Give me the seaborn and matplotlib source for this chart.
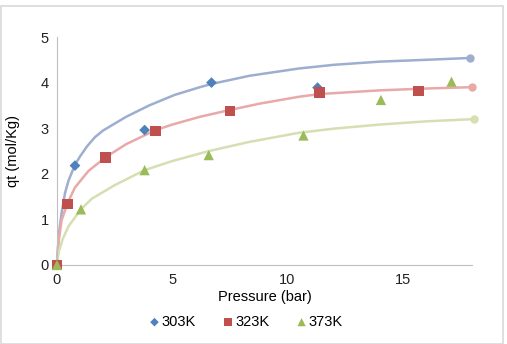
import seaborn as sns
import matplotlib.pyplot as plt
import pandas as pd
from matplotlib.patches import Rectangle

# measured points
p_303 = [0, 0.78, 3.8, 6.7, 11.3]
q_303 = [0, 2.18, 2.96, 4.0, 3.89]
p_323 = [0, 0.46, 2.1, 4.27, 7.49, 11.38, 15.68]
q_323 = [0, 1.34, 2.36, 2.94, 3.38, 3.78, 3.82]
p_373 = [0, 1.04, 3.8, 6.58, 10.69, 14.05, 17.11]
q_373 = [0, 1.22, 2.08, 2.41, 2.84, 3.62, 4.02]

# fitted curves
fit_p_303 = [0, 0.05, 0.1, 0.2, 0.35, 0.5, 0.78, 1, 1.3, 1.64, 2, 2.5, 3, 4, 5.1, 6.2,
             6.7, 8.35, 10.5, 12, 14, 16, 17.9]
fit_q_303 = [0, 0.45, 0.75, 1.14, 1.58, 1.85, 2.2, 2.38, 2.6, 2.8, 2.95, 3.1, 3.25, 3.5,
             3.73, 3.9, 3.97, 4.15, 4.31, 4.39, 4.46, 4.5, 4.54]
fit_p_323 = [0, 0.05, 0.1, 0.2, 0.46, 0.78, 1.36, 2.1, 3, 4.24, 5, 6.2, 7.5, 8.8, 10.5,
             11.4, 14, 16, 18]
fit_q_323 = [0, 0.4, 0.62, 0.98, 1.36, 1.7, 2.06, 2.36, 2.65, 2.95, 3.08, 3.25, 3.4, 3.54,
             3.69, 3.75, 3.83, 3.87, 3.9]
fit_p_373 = [0, 0.05, 0.1, 0.25, 0.5, 1.04, 1.5, 2.5, 3.8, 5, 6.6, 8.35, 10.5, 12, 14, 16, 18.1]
fit_q_373 = [0, 0.2, 0.33, 0.57, 0.85, 1.22, 1.45, 1.75, 2.08, 2.28, 2.5, 2.7, 2.9, 2.99,
             3.08, 3.15, 3.2]

labels = ['303K', '323K', '373K']
dark = ['#4F81BD', '#C0504D', '#9BBB59']
light = ['#9DAECF', '#E8A9A8', '#D5DFB2']
markers = ['D', 's', '^']
sizes = [30, 55, 55]

plt.rcParams['font.family'] = ['Liberation Sans', 'DejaVu Sans']

fig = plt.figure(figsize=(5.07, 3.44), dpi=100)
fig.patches.append(Rectangle((0.001, 0.001), 0.992, 0.982, transform=fig.transFigure,
                             fill=False, edgecolor='#D9D9D9', linewidth=1.2))
ax = fig.add_axes([0.1124, 0.2297, 0.8186, 0.6627])

fits = [(fit_p_303, fit_q_303), (fit_p_323, fit_q_323), (fit_p_373, fit_q_373)]
points = [(p_303, q_303), (p_323, q_323), (p_373, q_373)]

for i in range(3):
    fp, fq = fits[i]
    ax.plot(fp, fq, color=light[i], linewidth=1.8, marker='o', markevery=[-1],
            markersize=5, clip_on=False, zorder=2)

for i in range(3):
    px, py = points[i]
    df = pd.DataFrame({'p': px, 'q': py})
    sns.scatterplot(data=df, x='p', y='q', ax=ax, marker=markers[i], s=sizes[i],
                    color=dark[i], edgecolor='none', label=labels[i], clip_on=False, zorder=3)

ax.set_xlim(0, 18)
ax.set_ylim(0, 5)
ax.set_xticks([0, 5, 10, 15])
ax.set_yticks([0, 1, 2, 3, 4, 5])
ax.tick_params(length=0, labelsize=10.5, colors='#222222', pad=6)
for s in ['top', 'right']:
    ax.spines[s].set_visible(False)
for s in ['left', 'bottom']:
    ax.spines[s].set_color('#BFBFBF')
ax.set_xlabel('Pressure (bar)', fontsize=10.5, labelpad=2)
ax.set_ylabel('qt (mol/Kg)', fontsize=10.5, labelpad=15)

ax.legend(loc='center', bbox_to_anchor=(0.455, -0.25), ncol=3, frameon=False,
          fontsize=10.5, handletextpad=0.1, handlelength=0.8, columnspacing=1.8,
          markerscale=0.8)

plt.savefig('out.png', dpi=100)
